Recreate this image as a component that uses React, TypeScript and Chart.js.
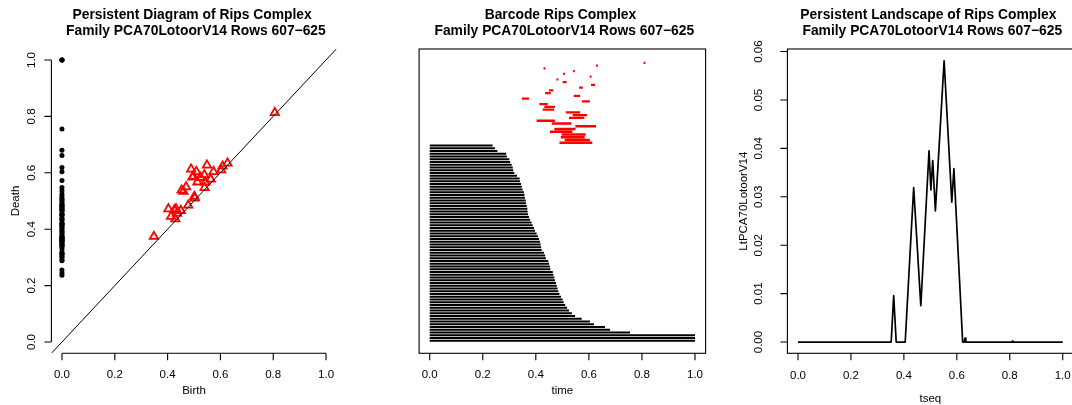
import React, { useEffect, useRef } from "react";
import { Chart, registerables } from "chart.js";
Chart.register(...registerables);

const FONT = "'Liberation Sans', Arial, Helvetica, sans-serif";

// ---- data ----
// H0 features (birth = 0), deaths sorted from longest to shortest
const h0Death = [
  1.0, 1.0, 1.0, 0.755, 0.68, 0.661, 0.619, 0.604, 0.573, 0.548, 0.536, 0.525,
  0.518, 0.511, 0.505, 0.501, 0.495, 0.489, 0.485, 0.482, 0.479, 0.476, 0.472,
  0.47, 0.466, 0.464, 0.455, 0.453, 0.45, 0.447, 0.438, 0.435, 0.431, 0.422,
  0.42, 0.418, 0.416, 0.412, 0.408, 0.403, 0.397, 0.393, 0.388, 0.384, 0.378,
  0.374, 0.371, 0.369, 0.368, 0.366, 0.363, 0.362, 0.359, 0.357, 0.355, 0.35,
  0.347, 0.344, 0.34, 0.339, 0.329, 0.319, 0.315, 0.313, 0.309, 0.303, 0.3,
  0.291, 0.288, 0.255, 0.246, 0.237,
];
// H1 features, listed from top bar to bottom bar of the barcode
const h1Birth = [
  0.806, 0.627, 0.429, 0.540, 0.503, 0.603, 0.478, 0.501, 0.608, 0.563, 0.450,
  0.435, 0.543, 0.348, 0.574, 0.413, 0.432, 0.426, 0.513, 0.539, 0.525, 0.403,
  0.460, 0.549, 0.470, 0.453, 0.497, 0.494, 0.509, 0.489,
];
const h1Death = [
  0.813, 0.634, 0.436, 0.547, 0.510, 0.610, 0.485, 0.516, 0.623, 0.577, 0.466,
  0.456, 0.567, 0.374, 0.604, 0.445, 0.472, 0.469, 0.567, 0.593, 0.583, 0.472,
  0.534, 0.627, 0.550, 0.538, 0.588, 0.584, 0.604, 0.613,
];
// persistence landscape
const tseq = [
  0, 0.352, 0.3615, 0.371, 0.405, 0.437, 0.464, 0.495, 0.502, 0.509, 0.519,
  0.552, 0.581, 0.589, 0.622, 0.628, 0.631, 0.634, 0.808, 0.81, 0.812, 1.0,
];
const landscape = [
  0, 0, 0.0096, 0, 0, 0.0319, 0.0075, 0.0395, 0.0314, 0.0375, 0.0271, 0.0581,
  0.0289, 0.0358, 0, 0, 0.0008, 0, 0, 0.0002, 0, 0,
];
const landscapeMax = 0.0582;

// ---- ticks ----
const unitTicks = [0, 0.2, 0.4, 0.6, 0.8, 1.0];
const unitTickLabels = ["0.0", "0.2", "0.4", "0.6", "0.8", "1.0"];
const landTicks = [0, 0.01, 0.02, 0.03, 0.04, 0.05, 0.06];
const landTickLabels = ["0.00", "0.01", "0.02", "0.03", "0.04", "0.05", "0.06"];

const UNIT_MIN = -0.04;
const UNIT_MAX = 1.04;
const TICK = 7;

type Spec = {
  title: string[];
  box: boolean;
  axisLines: boolean;
  xTicks: number[];
  xTickLabels: string[];
  yTicks: number[];
  yTickLabels: string[];
  xLabel: string;
  yLabel: string;
  xTickBase: number;
  xLabelBase: number;
  yTickBase: number;
  yLabelBase: number;
};

function rotText(ctx: CanvasRenderingContext2D, t: string, x: number, y: number) {
  ctx.save();
  ctx.translate(x, y);
  ctx.rotate(-Math.PI / 2);
  ctx.fillText(t, 0, 0);
  ctx.restore();
}

function makeRPlot(spec: Spec) {
  return {
    id: "rPlot",
    afterDatasetsDraw(chart: any) {
      const ctx: CanvasRenderingContext2D = chart.ctx;
      const a = chart.chartArea;
      const xs = chart.scales.x;
      const ys = chart.scales.y;
      ctx.save();
      ctx.fillStyle = "#000";
      ctx.strokeStyle = "#000";
      ctx.lineWidth = 1.1;
      ctx.textBaseline = "alphabetic";
      ctx.textAlign = "center";
      const cx = (a.left + a.right) / 2;
      const cy = (a.top + a.bottom) / 2;
      ctx.font = `bold 13.85px ${FONT}`;
      spec.title.forEach((t, i) => ctx.fillText(t, cx, 19 + 16 * i));
      if (spec.box) ctx.strokeRect(a.left, a.top, a.right - a.left, a.bottom - a.top);
      ctx.beginPath();
      const xp = spec.xTicks.map((v) => xs.getPixelForValue(v));
      if (spec.axisLines) {
        ctx.moveTo(xp[0], a.bottom);
        ctx.lineTo(xp[xp.length - 1], a.bottom);
      }
      xp.forEach((p) => {
        ctx.moveTo(p, a.bottom);
        ctx.lineTo(p, a.bottom + TICK);
      });
      const yp = spec.yTicks.map((v) => ys.getPixelForValue(v));
      if (yp.length) {
        if (spec.axisLines) {
          ctx.moveTo(a.left, yp[0]);
          ctx.lineTo(a.left, yp[yp.length - 1]);
        }
        yp.forEach((p) => {
          ctx.moveTo(a.left, p);
          ctx.lineTo(a.left - TICK, p);
        });
      }
      ctx.stroke();
      ctx.font = `11.5px ${FONT}`;
      xp.forEach((p, i) => ctx.fillText(spec.xTickLabels[i], p, spec.xTickBase));
      ctx.fillText(spec.xLabel, cx, spec.xLabelBase);
      yp.forEach((p, i) => rotText(ctx, spec.yTickLabels[i], spec.yTickBase, p));
      if (spec.yLabel) rotText(ctx, spec.yLabel, spec.yLabelBase, cy);
      ctx.restore();
    },
  };
}

const baseOptions = (padding: any, x: any, y: any) => ({
  animation: false as const,
  responsive: false,
  devicePixelRatio: 1,
  events: [] as any[],
  layout: { padding },
  scales: {
    x: { type: "linear" as const, display: false, ...x },
    y: { type: "linear" as const, display: false, ...y },
  },
  plugins: { legend: { display: false }, tooltip: { enabled: false }, title: { display: false } },
});

const subtitle = " Family PCA70LotoorV14 Rows 607\u2212625";

function diagramConfig(): any {
  return {
    type: "line",
    data: {
      datasets: [
        {
          data: [UNIT_MIN, UNIT_MAX].map((v) => ({ x: v, y: v })),
          borderColor: "#000",
          borderWidth: 1,
          pointRadius: 0,
        },
        {
          data: h1Birth.map((b, i) => ({ x: b, y: h1Death[i] })),
          showLine: false,
          pointStyle: "triangle",
          pointRadius: 4.8,
          pointBorderColor: "#ff0000",
          pointBackgroundColor: "rgba(0,0,0,0)",
          pointBorderWidth: 1.8,
        },
        {
          data: h0Death.map((d) => ({ x: 0, y: d })),
          showLine: false,
          pointStyle: "circle",
          pointRadius: 2.5,
          pointBackgroundColor: "#000",
          pointBorderColor: "#000",
          pointBorderWidth: 0,
        },
      ],
    },
    options: baseOptions(
      { left: 51.4, right: 20.4, top: 48.7, bottom: 51.7 },
      { min: UNIT_MIN, max: UNIT_MAX },
      { min: UNIT_MIN, max: UNIT_MAX }
    ),
    plugins: [
      makeRPlot({
        title: ["Persistent Diagram of Rips Complex ", subtitle],
        box: false,
        axisLines: true,
        xTicks: unitTicks,
        xTickLabels: unitTickLabels,
        yTicks: unitTicks,
        yTickLabels: unitTickLabels,
        xLabel: "Birth",
        yLabel: "Death",
        xTickBase: 378.3,
        xLabelBase: 394,
        yTickBase: 35.3,
        yLabelBase: 19.3,
      }),
    ],
  };
}

function barcodeConfig(): any {
  const nH0 = h0Death.length;
  const n = nH0 + h1Birth.length;
  const black: any[] = [];
  h0Death.forEach((d, i) => {
    const y = i + 1;
    black.push({ x: 0, y }, { x: d, y }, { x: d, y: null });
  });
  const red: any[] = [];
  h1Birth.forEach((b, i) => {
    const y = n - i;
    red.push({ x: b, y }, { x: h1Death[i], y }, { x: h1Death[i], y: null });
  });
  return {
    type: "line",
    data: {
      datasets: [
        { data: black, borderColor: "#000", borderWidth: 2, pointRadius: 0, spanGaps: false },
        { data: red, borderColor: "#ff0000", borderWidth: 2.4, pointRadius: 0, spanGaps: false },
      ],
    },
    options: baseOptions(
      { left: 62.1, right: 9.4, top: 49, bottom: 51.7 },
      { min: UNIT_MIN, max: UNIT_MAX },
      { min: 1 - 0.045 * (n - 1), max: n + 0.05 * (n - 1) }
    ),
    plugins: [
      makeRPlot({
        title: ["Barcode Rips Complex ", subtitle],
        box: true,
        axisLines: false,
        xTicks: unitTicks,
        xTickLabels: unitTickLabels,
        yTicks: [],
        yTickLabels: [],
        xLabel: "time",
        yLabel: "",
        xTickBase: 378.3,
        xLabelBase: 393.5,
        yTickBase: 0,
        yLabelBase: 0,
      }),
    ],
  };
}

function landscapeConfig(): any {
  return {
    type: "line",
    data: {
      datasets: [
        {
          data: tseq.map((t, i) => ({ x: t, y: landscape[i] })),
          borderColor: "#000",
          borderWidth: 1.7,
          borderJoinStyle: "round",
          pointRadius: 0,
        },
      ],
    },
    options: baseOptions(
      { left: 72.4, right: 1.7, top: 49, bottom: 51.7 },
      { min: UNIT_MIN, max: UNIT_MAX },
      { min: -0.04 * landscapeMax, max: 1.04 * landscapeMax }
    ),
    plugins: [
      makeRPlot({
        title: ["Persistent Landscape of Rips Complex ", subtitle],
        box: true,
        axisLines: false,
        xTicks: unitTicks,
        xTickLabels: unitTickLabels,
        yTicks: landTicks,
        yTickLabels: landTickLabels,
        xLabel: "tseq",
        yLabel: "LtPCA70LotoorV14",
        xTickBase: 379,
        xLabelBase: 402,
        yTickBase: 47.3,
        yLabelBase: 32.3,
      }),
    ],
  };
}

function Panel({ left, width, build }: { left: number; width: number; build: () => any }) {
  const ref = useRef<HTMLCanvasElement>(null);
  useEffect(() => {
    const chart = new Chart(ref.current as HTMLCanvasElement, build());
    return () => chart.destroy();
  }, []);
  return (
    <canvas
      ref={ref}
      width={width}
      height={405}
      style={{ position: "absolute", left, top: 0, width, height: 405 }}
    />
  );
}

export default function App() {
  return (
    <div
      style={{
        position: "absolute",
        left: 0,
        top: 0,
        width: 1072,
        height: 405,
        overflow: "hidden",
        background: "#fff",
      }}
    >
      <Panel left={0} width={357} build={diagramConfig} />
      <Panel left={357} width={358} build={barcodeConfig} />
      <Panel left={715} width={360} build={landscapeConfig} />
    </div>
  );
}
